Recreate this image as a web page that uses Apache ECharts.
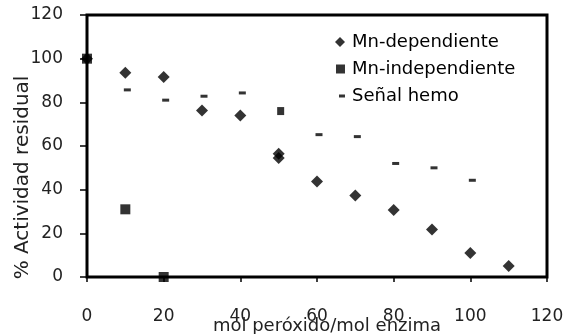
<!DOCTYPE html>
<html>
<head>
<meta charset="utf-8">
<style>html,body{margin:0;padding:0;width:566px;height:334px;background:#fff;overflow:hidden;}#chart{width:566px;height:334px;}</style>
<script src="https://cdn.jsdelivr.net/npm/echarts@6/dist/echarts.min.js"></script>
</head>
<body>
<div id="chart"></div>
<script>
// values
var depX = [0, 10, 20, 30, 40, 50, 50, 60, 70, 80, 90, 100, 110];
var depY = [100, 93.6, 91.6, 76.3, 74, 56.5, 54.5, 43.7, 37.3, 30.7, 21.7, 11, 5];
var indepX = [0, 10, 20];
var indepY = [100, 31, 0];
var hemoX = [10, 20, 30, 40, 50, 60, 70, 80, 90, 100];
var hemoY = [85.7, 81, 82.8, 84.3, 76, 65.2, 64.3, 52, 50, 44.3];
var axisMax = 120;

var font = "DejaVu Sans";
var pairs = function (xs, ys) { return xs.map(function (x, i) { return [x, ys[i]]; }); };

var hemoData = pairs(hemoX, hemoY).map(function (p) {
  // the point at 50 is drawn as a small block in the picture
  if (p[0] === 50) return { value: p, symbolSize: [7, 8], symbolOffset: [2, 0] };
  return { value: p };
});

// tiny corner specks keep the legend icon box 10x10 so the shape stays small
var dashIcon = "path://M0,0h0.01v0.01h-0.01z M10,10h0.01v0.01h-0.01z M4,3.5h6v3h-6z";
var squareIcon = "path://M0,0h0.01v0.01h-0.01z M10,10h0.01v0.01h-0.01z M1,0.5h9v9h-9z";

var chart = echarts.init(document.getElementById("chart"), null, { renderer: "canvas" });
chart.setOption({
  animation: false,
  backgroundColor: "#fff",
  textStyle: { fontFamily: font },
  grid: {
    left: 87, top: 15, width: 460, height: 262, outerBoundsMode: "none",
    show: true, borderColor: "#000", borderWidth: 3
  },
  legend: {
    left: 335, top: 33, padding: 0, orient: "vertical", itemGap: 9,
    itemWidth: 10, itemHeight: 10,
    textStyle: { fontFamily: font, fontSize: 18, color: "#000", padding: [0, 0, 0, 2] },
    data: [
      { name: "Mn-dependiente", icon: "diamond" },
      { name: "Mn-independiente", icon: squareIcon },
      { name: "Señal hemo", icon: dashIcon }
    ]
  },
  xAxis: {
    type: "value", min: 0, max: axisMax, interval: 20,
    name: "mol peróxido/mol enzima", nameLocation: "middle", nameGap: 40, nameMoveOverlap: false,
    nameTextStyle: { fontFamily: font, fontSize: 18, color: "#222", padding: [0, 0, 0, 20] },
    axisLine: { show: true, onZero: false, lineStyle: { color: "#000", width: 2 } },
    axisTick: { show: true, length: 5, lineStyle: { color: "#000", width: 1.5 } },
    axisLabel: { fontFamily: font, fontSize: 17, color: "#222", margin: 31 },
    splitLine: { show: false }
  },
  yAxis: {
    type: "value", min: 0, max: axisMax, interval: 20,
    name: "% Actividad residual", nameLocation: "middle", nameGap: 54, nameRotate: 90, nameMoveOverlap: false,
    nameTextStyle: { fontFamily: font, fontSize: 20, color: "#222", padding: [0, 63, 0, 0] },
    axisLine: { show: true, lineStyle: { color: "#000", width: 2 } },
    axisTick: { show: true, length: 7, lineStyle: { color: "#000", width: 1.5 } },
    axisLabel: { fontFamily: font, fontSize: 17, color: "#222", margin: 24 },
    splitLine: { show: false }
  },
  series: [
    {
      name: "Mn-dependiente", type: "scatter", symbol: "diamond", symbolSize: 12,
      itemStyle: { color: "#000" }, data: pairs(depX, depY), z: 3
    },
    {
      name: "Mn-independiente", type: "scatter", symbol: "rect", symbolSize: 10,
      itemStyle: { color: "#000" }, data: pairs(indepX, indepY), z: 4
    },
    {
      name: "Señal hemo", type: "scatter", symbol: "rect", symbolSize: [7, 3],
      symbolOffset: [2, 0], itemStyle: { color: "#000" }, data: hemoData, z: 2
    }
  ]
});
</script>
</body>
</html>
